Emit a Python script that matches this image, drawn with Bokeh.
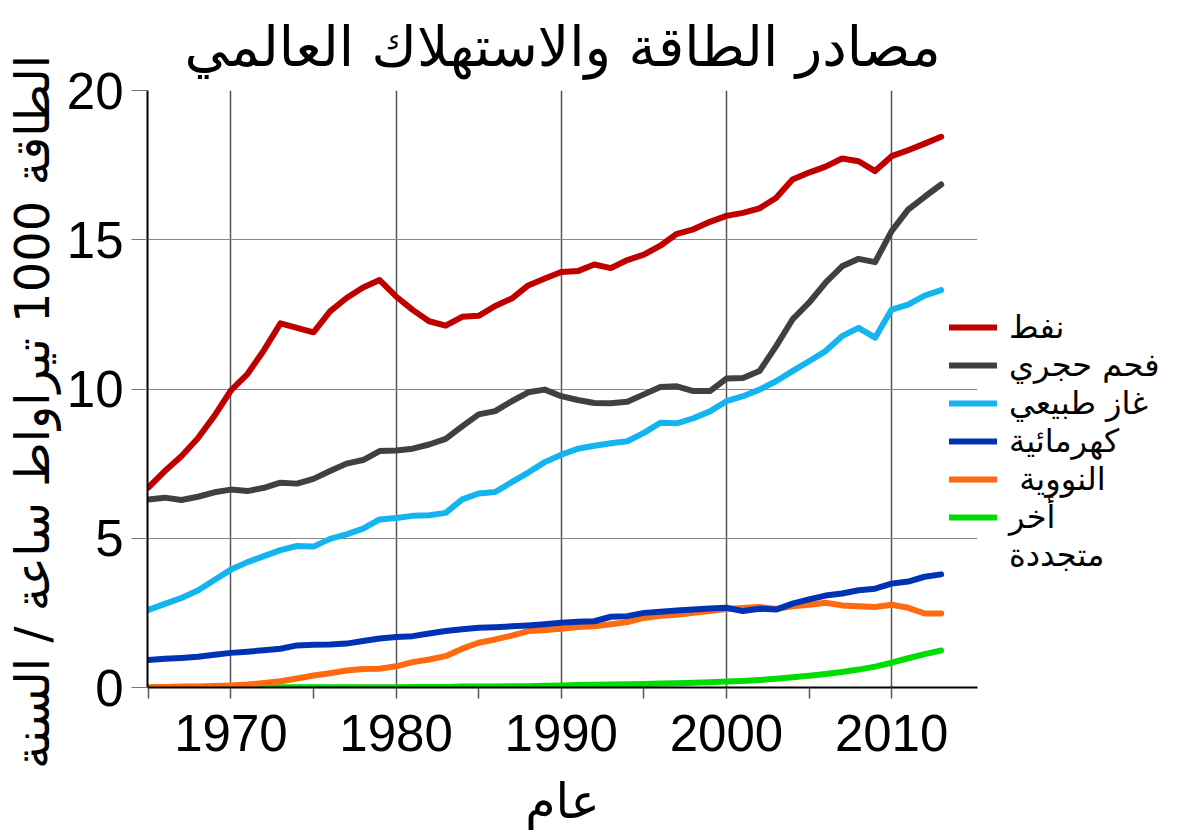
from bokeh.plotting import figure
from bokeh.models import Range1d, FixedTicker, Legend, LegendItem
from bokeh.embed import file_html
from bokeh.resources import INLINE

years = list(range(1965, 2014))

oil = [6.7, 7.25, 7.75, 8.35, 9.1, 9.95, 10.5, 11.3, 12.2, 12.05, 11.9, 12.6, 13.05, 13.4, 13.65,
       13.1, 12.65, 12.27, 12.12, 12.42, 12.45, 12.78, 13.03, 13.47, 13.7, 13.92, 13.95, 14.17, 14.05,
       14.32, 14.5, 14.8, 15.2, 15.35, 15.6, 15.8, 15.9, 16.05, 16.4, 17.02, 17.25, 17.45, 17.72,
       17.63, 17.3, 17.8, 18.0, 18.22, 18.45]
coal = [6.3, 6.36, 6.28, 6.39, 6.54, 6.63, 6.58, 6.69, 6.86, 6.83, 6.99, 7.25, 7.5, 7.62, 7.92,
        7.94, 8.0, 8.14, 8.33, 8.75, 9.15, 9.26, 9.59, 9.89, 9.98, 9.76, 9.63, 9.53, 9.52, 9.57,
        9.82, 10.07, 10.09, 9.93, 9.93, 10.35, 10.37, 10.6, 11.43, 12.33, 12.89, 13.56, 14.11,
        14.36, 14.25, 15.29, 16.01, 16.44, 16.85]
gas = [2.6, 2.8, 3.0, 3.25, 3.6, 3.95, 4.2, 4.4, 4.6, 4.74, 4.72, 4.98, 5.13, 5.32, 5.63, 5.68,
       5.75, 5.77, 5.85, 6.3, 6.5, 6.55, 6.88, 7.2, 7.55, 7.8, 8.0, 8.1, 8.18, 8.25, 8.53, 8.87,
       8.85, 9.02, 9.25, 9.59, 9.76, 9.98, 10.26, 10.6, 10.93, 11.27, 11.77, 12.05, 11.72, 12.66,
       12.83, 13.13, 13.31]
hydro = [0.92, 0.96, 0.99, 1.03, 1.1, 1.16, 1.2, 1.25, 1.3, 1.41, 1.43, 1.44, 1.47, 1.56, 1.64,
         1.69, 1.72, 1.81, 1.89, 1.95, 2.0, 2.02, 2.05, 2.08, 2.12, 2.17, 2.2, 2.22, 2.37, 2.39,
         2.5, 2.54, 2.58, 2.61, 2.65, 2.67, 2.56, 2.64, 2.61, 2.81, 2.95, 3.08, 3.15, 3.26, 3.31,
         3.48, 3.55, 3.71, 3.79]
nuclear = [0.01, 0.02, 0.03, 0.03, 0.05, 0.07, 0.1, 0.15, 0.21, 0.3, 0.4, 0.48, 0.57, 0.62, 0.63,
           0.71, 0.85, 0.94, 1.05, 1.3, 1.5, 1.61, 1.74, 1.89, 1.93, 1.97, 2.03, 2.05, 2.12, 2.19,
           2.33, 2.4, 2.44, 2.5, 2.56, 2.63, 2.66, 2.7, 2.63, 2.72, 2.77, 2.84, 2.75, 2.72, 2.7,
           2.77, 2.67, 2.48, 2.48]
renew = [0.01, 0.01, 0.01, 0.01, 0.01, 0.01, 0.01, 0.01, 0.01, 0.01, 0.01, 0.01, 0.01, 0.01, 0.01,
         0.01, 0.02, 0.02, 0.02, 0.03, 0.03, 0.03, 0.04, 0.04, 0.06, 0.07, 0.08, 0.09, 0.1, 0.11,
         0.12, 0.13, 0.14, 0.16, 0.18, 0.2, 0.22, 0.25, 0.29, 0.34, 0.39, 0.45, 0.52, 0.6, 0.7,
         0.83, 0.98, 1.12, 1.24]

labels = ["نفط", "فحم حجري", "غاز طبيعي", "كهرمائية", " النووية", "أخر"]
label_cont = "متجددة"
colors = ["#c00000", "#404040", "#14b4f0", "#0033b4", "#ff6a10", "#00dd00"]
series = [oil, coal, gas, hydro, nuclear, renew]

title = "مصادر الطاقة والاستهلاك العالمي"
ylabel = "الطاقة 1000 تيراواط ساعة / السنة"
xlabel = "عام"
xticks = [1965, 1970, 1975, 1980, 1985, 1990, 1995, 2000, 2005, 2010]
xgrid_ticks = [1970, 1980, 1990, 2000, 2010]
yticks = [0, 5, 10, 15, 20]

AR = "DejaVu Sans"
NUM = "Liberation Sans"

p = figure(frame_width=830, frame_height=597, output_backend="svg", toolbar_location=None,
           x_range=Range1d(1964.95, 2015.2), y_range=Range1d(0, 20),
           min_border_left=141, min_border_right=193, min_border_top=88, min_border_bottom=141,
           title=title)
p.outline_line_color = None
p.background_fill_color = "white"

p.title.align = "center"
p.title.text_font = AR
p.title.text_font_size = "55px"
p.title.text_font_style = "normal"
p.title.text_color = "black"
p.title.standoff = 24

# axes
for ax in (p.xaxis[0], p.yaxis[0]):
    ax.axis_line_color = "black"
    ax.axis_line_width = 2
    ax.major_label_text_font = NUM
    ax.major_label_text_font_size = "51px"
    ax.major_label_text_color = "black"
    ax.axis_label_text_font = AR
    ax.axis_label_text_font_style = "normal"
    ax.axis_label_text_color = "black"
    ax.minor_tick_line_color = None
    ax.major_tick_in = 0

p.xaxis.ticker = FixedTicker(ticks=xticks)
p.xaxis.major_label_overrides = {t: ("" if t % 10 else str(t)) for t in xticks}
p.xaxis.major_tick_out = 11
p.xaxis.major_tick_line_color = "#555555"
p.xaxis.major_tick_line_width = 1.5
p.xaxis.major_label_standoff = 16
p.xaxis.axis_label = xlabel
p.xaxis.axis_label_text_font_size = "49px"
p.xaxis.axis_label_standoff = 19

p.yaxis.ticker = FixedTicker(ticks=yticks)
p.yaxis.major_tick_out = 16
p.yaxis.major_tick_line_color = "#777777"
p.yaxis.major_tick_line_width = 1.2
p.yaxis.major_label_standoff = 8
p.yaxis.axis_label = ylabel + "\u00a0" * 3
p.yaxis.axis_label_text_font_size = "48px"
p.yaxis.axis_label_standoff = 4

p.xgrid.ticker = FixedTicker(ticks=xgrid_ticks)
p.xgrid.grid_line_color = "#555555"
p.xgrid.grid_line_width = 1.5
p.ygrid.ticker = FixedTicker(ticks=[5, 10, 15, 20])
p.ygrid.grid_line_color = "#888888"
p.ygrid.grid_line_width = 1.2

renderers = {}
for idx in [5, 4, 3, 2, 1, 0]:
    r = p.line(years, series[idx], line_color=colors[idx], line_width=6,
               line_join="round", line_cap="round")
    renderers[idx] = r

# invisible carrier for the second line of the last legend label
cont = p.line(years, renew, line_alpha=0)

items = [LegendItem(label=labels[i], renderers=[renderers[i]]) for i in range(6)]
items.append(LegendItem(label=label_cont, renderers=[cont]))
legend = Legend(items=items, location=(-28, 113))
legend.padding = 0
legend.margin = 0
legend.spacing = 0
legend.border_line_color = None
legend.background_fill_alpha = 0
legend.glyph_width = 48
legend.glyph_height = 38
legend.label_height = 38
legend.label_standoff = 12
legend.label_text_font = AR
legend.label_text_font_size = "32px"
legend.label_text_color = "black"
legend.label_text_baseline = "middle"
p.add_layout(legend, "right")

open("out.html", "w").write(file_html(p, INLINE))
